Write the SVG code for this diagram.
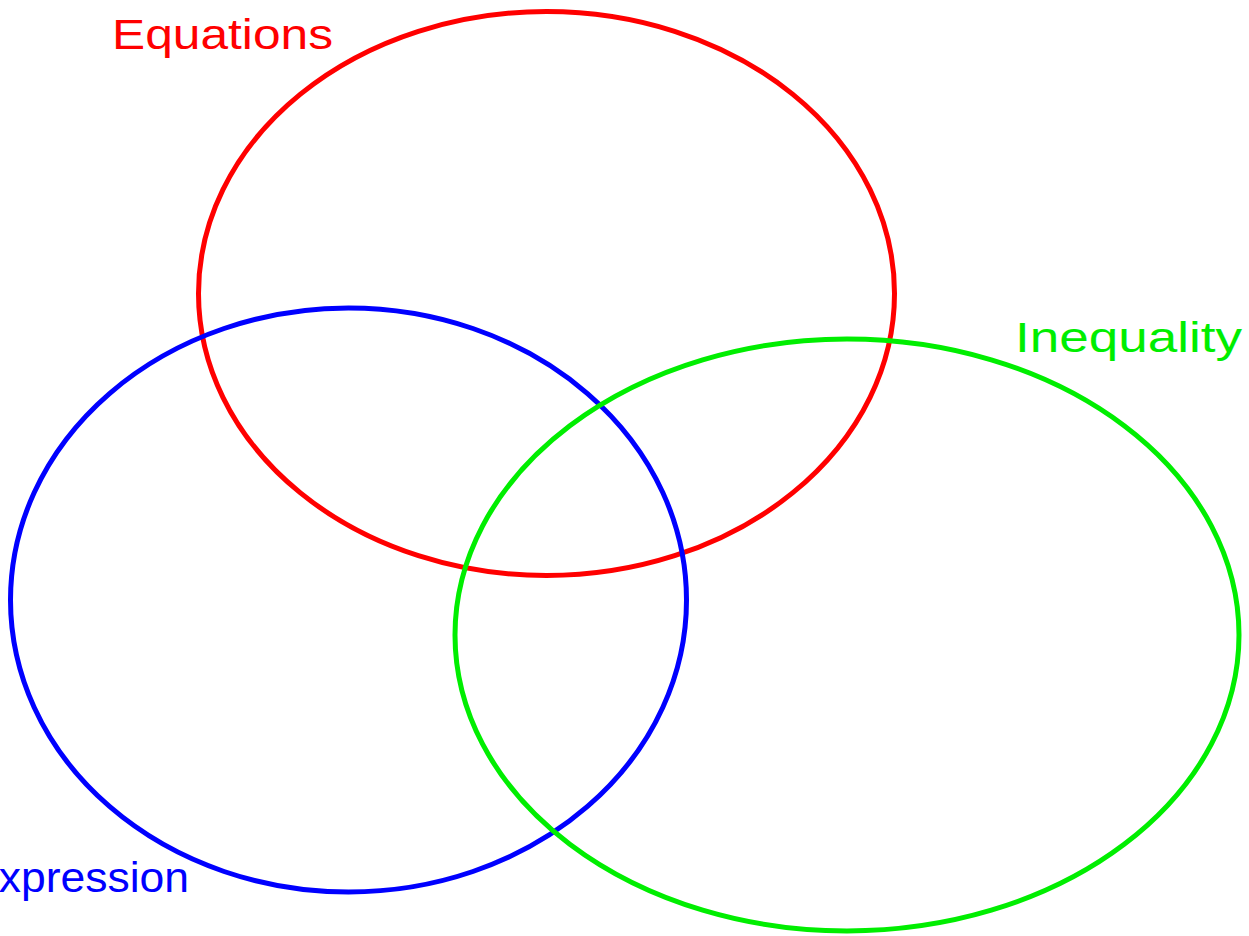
<svg xmlns="http://www.w3.org/2000/svg" width="1249" height="936" viewBox="0 0 1249 936">
<style>
.ring{fill:none;stroke-width:5}
.lbl{font-family:"Liberation Sans","DejaVu Sans",sans-serif;font-size:43px;font-weight:normal}
</style>
<rect width="1249" height="936" fill="#ffffff"/>
<g id="connectors"></g>
<g id="equations">
<ellipse class="ring" cx="546.5" cy="293.5" rx="348" ry="282" stroke="#ff0000"/>
<text class="lbl" x="112" y="49" fill="#ff0000" textLength="221" lengthAdjust="spacingAndGlyphs">Equations</text>
</g>
<g id="expression">
<ellipse class="ring" cx="348.5" cy="600" rx="338" ry="292" stroke="#0000ff"/>
<text class="lbl" x="-31" y="892" fill="#0000ff" textLength="220" lengthAdjust="spacingAndGlyphs">Expression</text>
</g>
<g id="inequality">
<ellipse class="ring" cx="847" cy="635" rx="392" ry="296" stroke="#00ee00"/>
<text class="lbl" x="1015" y="352" fill="#00ee00" textLength="227" lengthAdjust="spacingAndGlyphs">Inequality</text>
</g>
</svg>
